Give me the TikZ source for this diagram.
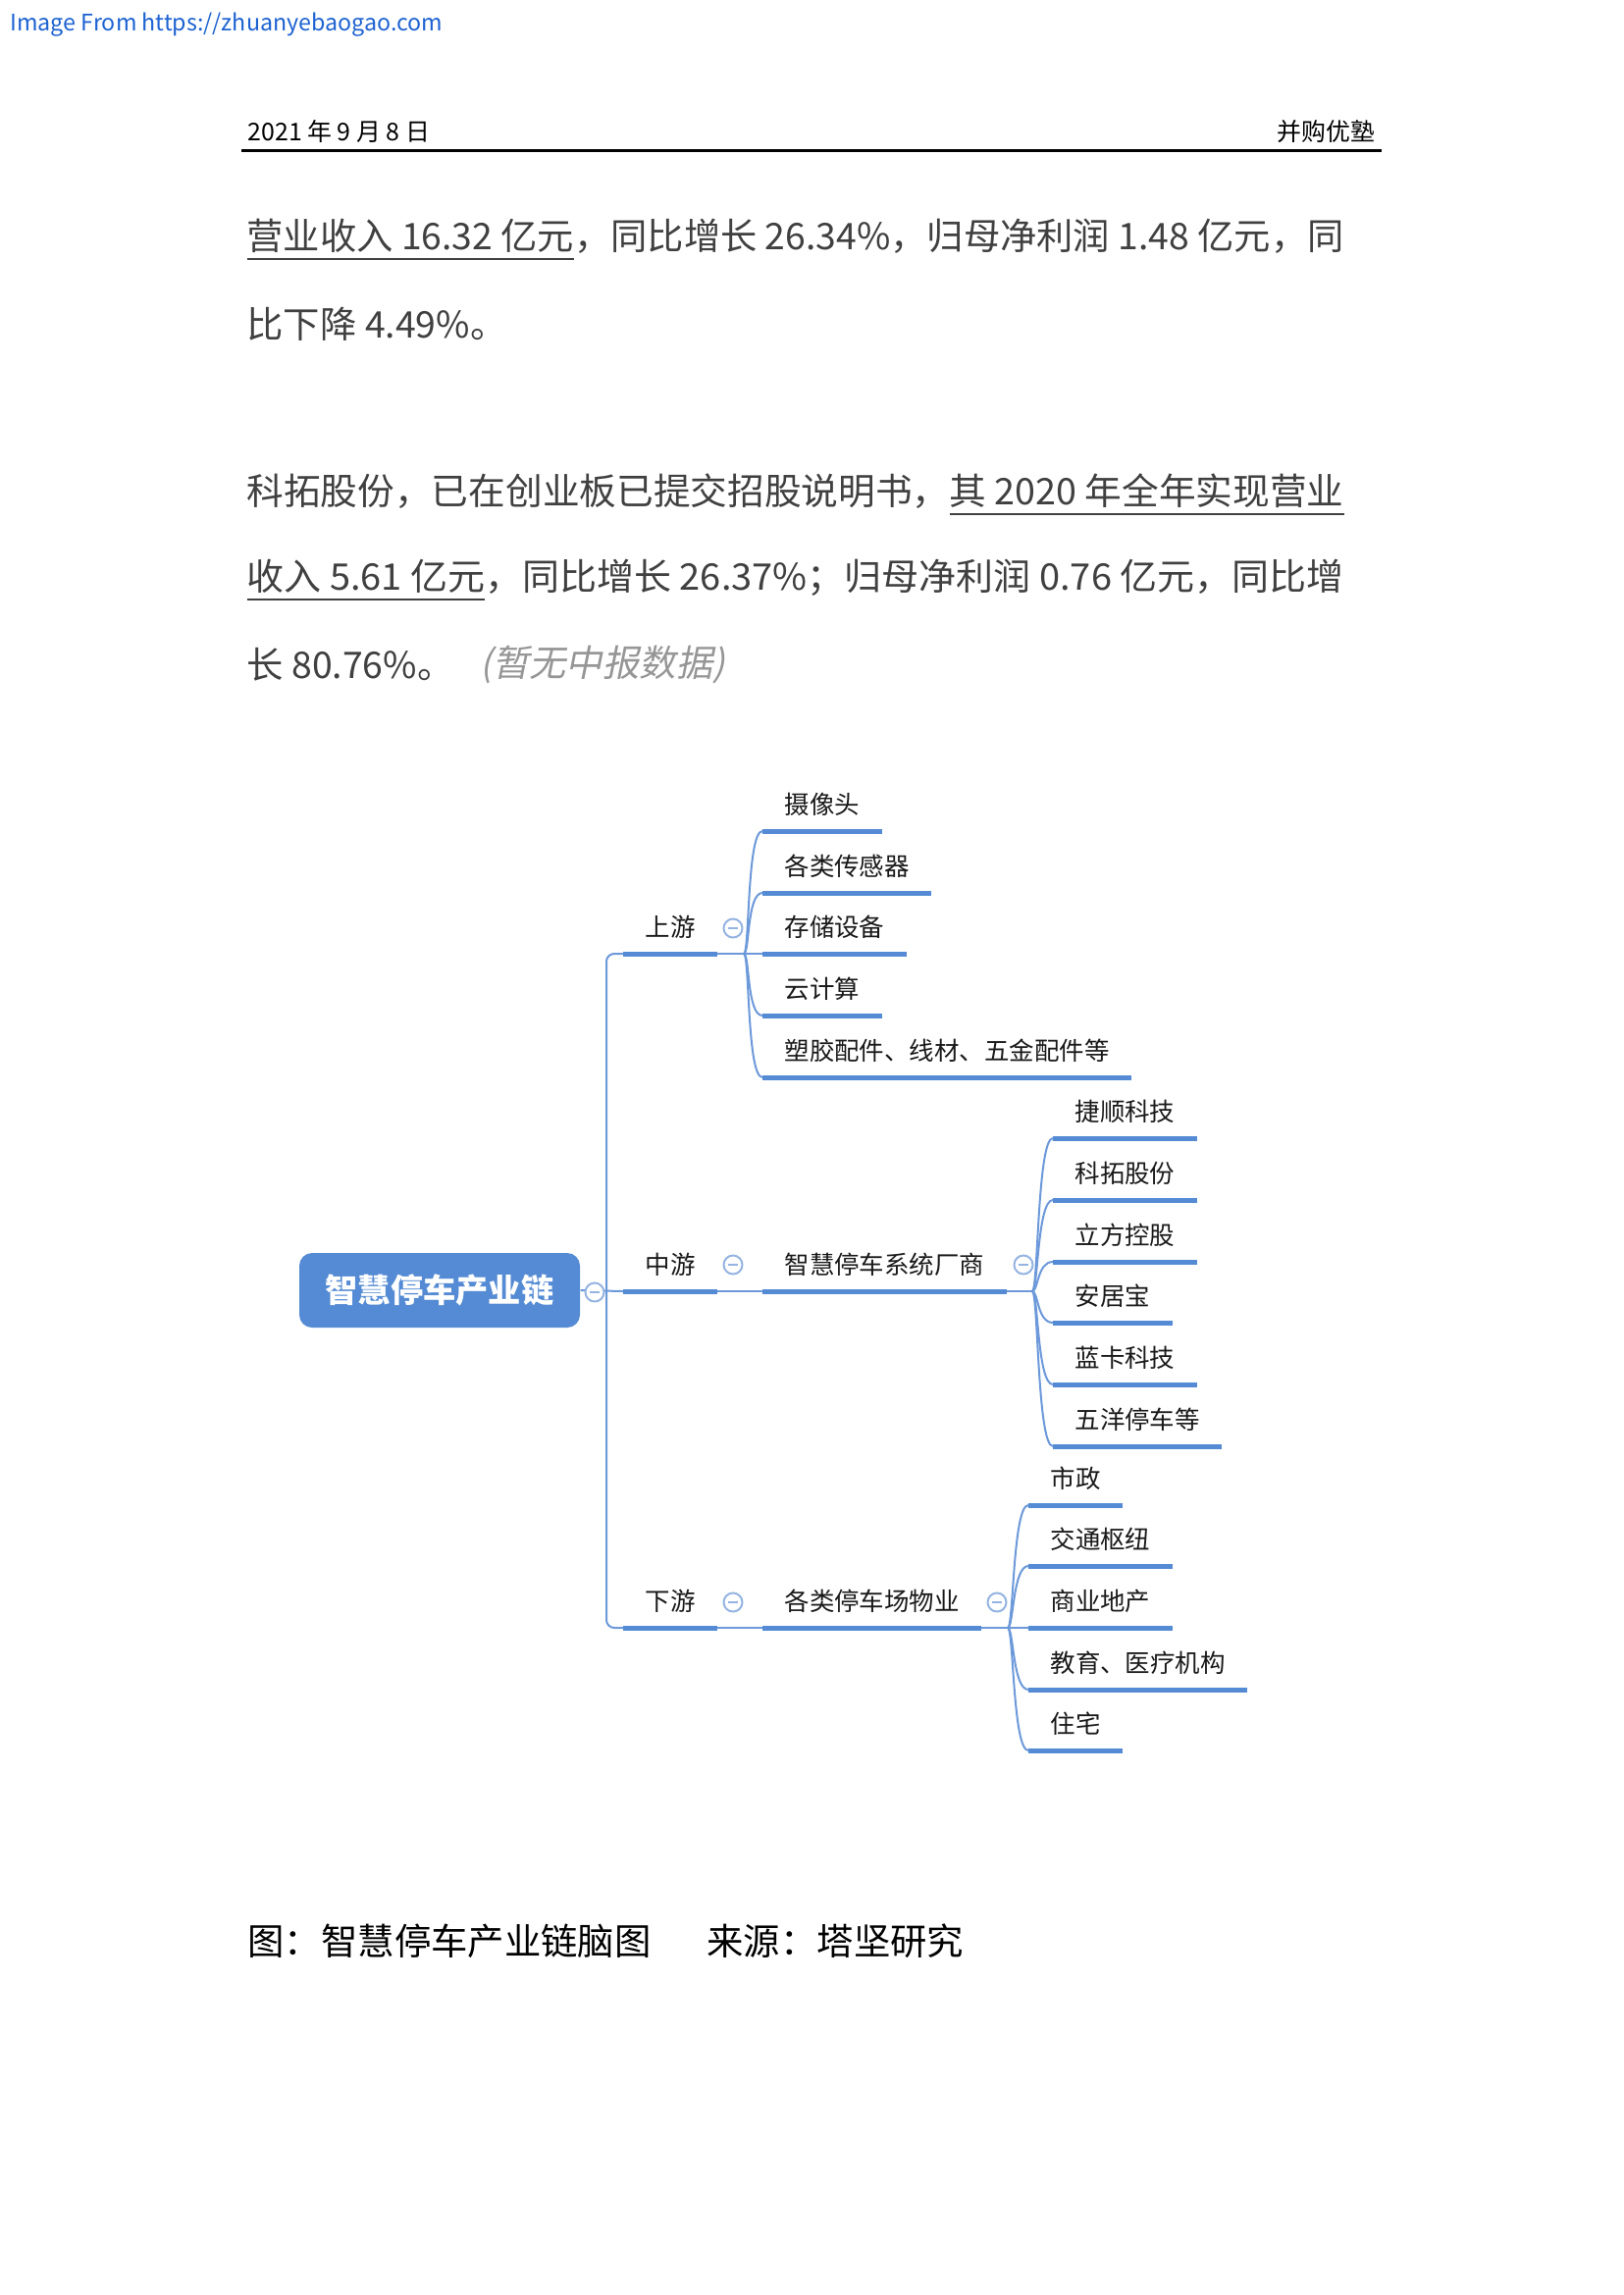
\documentclass[tikz,border=0pt]{standalone}
\usepackage{fontspec}
\setmainfont{Noto Sans CJK SC}
\newfontfamily\slantcjk[FakeSlant=0.2]{Noto Sans CJK SC}
\usepackage{graphicx}
\usepackage{xcolor}
\usepackage{tikz}
\newlength{\pxu}
\setlength{\pxu}{0.12697mm}
\definecolor{mapblue}{RGB}{84,139,212}
\definecolor{linkblue}{RGB}{108,153,218}
\definecolor{foldblue}{RGB}{150,180,226}
\definecolor{bodygrey}{RGB}{64,64,64}
\definecolor{notegrey}{RGB}{150,150,150}
\definecolor{urlblue}{RGB}{28,98,210}
\newcommand{\lineunder}[1]{\setbox0=\hbox{#1}\rlap{\rule[-3.8pt]{\wd0}{0.85pt}}\box0}
\tikzset{
    root-box/.style = {fill=mapblue, text=white, rounded corners=13\pxu, minimum width=286\pxu, minimum height=76\pxu, inner sep=0pt, font=\fontsize{12pt}{14pt}\bfseries},
    topic-bar/.style = {draw=mapblue, line width=5\pxu},
    topic/.style = {anchor=south west, inner xsep=22\pxu, inner ysep=0pt, minimum height=54\pxu, text=black!90, font=\fontsize{9.2pt}{11pt}\selectfont,
        append after command={(\tikzlastnode.south west) edge[topic-bar] (\tikzlastnode.south east)}},
    link/.style = {draw=linkblue, line width=2\pxu},
    fold-mark/.style = {circle, draw=foldblue, fill=white, line width=2\pxu, minimum size=19\pxu, inner sep=0pt,
        path picture={\draw[foldblue, line width=2\pxu] ([xshift=-5\pxu]path picture bounding box.center) -- ([xshift=5\pxu]path picture bounding box.center);}},
    body-line/.style = {anchor=west, inner sep=0pt, text=bodygrey, font=\fontsize{13.5pt}{16pt}\selectfont},
    note-text/.style = {anchor=west, inner sep=0pt, text=notegrey, font=\fontsize{13.5pt}{16pt}\slantcjk},
    head-text/.style = {inner sep=0pt, text=black, font=\fontsize{9pt}{11pt}\selectfont},
    caption-text/.style = {anchor=west, inner sep=0pt, text=black, font=\fontsize{13.5pt}{16pt}\selectfont},
}

\begin{document}
\begin{tikzpicture}[x=\pxu, y=-\pxu]
\useasboundingbox (0,0) rectangle (1654,2339);
\fill[white] (0,0) rectangle (1654,2339);

% page head
\node[anchor=west, inner sep=0pt, text=urlblue, font=\fontsize{8.4pt}{10pt}\selectfont] (source) at (10,25) {Image From https://zhuanyebaogao.com};
\node[head-text, anchor=west] (date) at (252,134) {2021 年 9 月 8 日};
\node[head-text, anchor=east] (brand) at (1402,134) {并购优塾};
\draw[line width=3\pxu] (246,154) -- (1408,154);

% text above the map
\node[body-line] (line-a) at (251,244) {\resizebox{1118\pxu}{\height}{\lineunder{营业收入 16.32 亿元}，同比增长 26.34\%，归母净利润 1.48 亿元，同}};
\node[body-line] (line-b) at (251,330) {比下降 4.49\%。};
\node[body-line] (line-c) at (251,504) {\resizebox{1118\pxu}{\height}{科拓股份，已在创业板已提交招股说明书，\lineunder{其 2020 年全年实现营业}}};
\node[body-line] (line-d) at (251,591) {\resizebox{1118\pxu}{\height}{\lineunder{收入 5.61 亿元}，同比增长 26.37\%；归母净利润 0.76 亿元，同比增}};
\node[body-line] (line-e) at (251,677) {长 80.76\%。};
\node[note-text] (note) at (489,677) {(暂无中报数据)};

% mind map
\node[root-box] (root) at (448,1315) {智慧停车产业链};

\node[topic] (up) at (635,972) {上游};
\node[topic] (mid) at (635,1316) {中游};
\node[topic] (down) at (635,1659) {下游};
\coordinate (trunk) at (618,1316);

\node[topic] (camera) at (777,847) {摄像头};
\node[topic] (sensor) at (777,910) {各类传感器};
\node[topic] (storage) at (777,972) {存储设备};
\node[topic] (cloud) at (777,1035) {云计算};
\node[topic] (parts) at (777,1098) {塑胶配件、线材、五金配件等};
\coordinate (up-hub) at (758,972);

\node[topic] (sys) at (777,1316) {智慧停车系统厂商};
\node[topic] (jieshun) at (1073,1160) {捷顺科技};
\node[topic] (ketuo) at (1073,1223) {科拓股份};
\node[topic] (lifang) at (1073,1286) {立方控股};
\node[topic] (anjubao) at (1073,1348) {安居宝};
\node[topic] (lanka) at (1073,1411) {蓝卡科技};
\node[topic] (wuyang) at (1073,1474) {五洋停车等};
\coordinate (sys-hub) at (1052,1316);

\node[topic] (park) at (777,1659) {各类停车场物业};
\node[topic] (civic) at (1048,1534) {市政};
\node[topic] (transit) at (1048,1596) {交通枢纽};
\node[topic] (estate) at (1048,1659) {商业地产};
\node[topic] (school) at (1048,1722) {教育、医疗机构};
\node[topic] (home) at (1048,1784) {住宅};
\coordinate (park-hub) at (1027,1659);

\draw[link] (root.east) -- (mid.south west);
\draw[link, rounded corners=8\pxu] (up.south west) -| (trunk) |- (down.south west);
\draw[link] (mid.south east) -- (sys.south west);
\draw[link] (down.south east) -- (park.south west);

\draw[link] (up.south east) -- (up-hub);
\draw[link] (up-hub) .. controls +(6,0) and +(-16,0) .. (camera.south west);
\draw[link] (up-hub) .. controls +(6,0) and +(-16,0) .. (sensor.south west);
\draw[link] (up-hub) -- (storage.south west);
\draw[link] (up-hub) .. controls +(6,0) and +(-16,0) .. (cloud.south west);
\draw[link] (up-hub) .. controls +(6,0) and +(-16,0) .. (parts.south west);

\draw[link] (sys.south east) -- (sys-hub);
\draw[link] (sys-hub) .. controls +(6,0) and +(-16,0) .. (jieshun.south west);
\draw[link] (sys-hub) .. controls +(6,0) and +(-16,0) .. (ketuo.south west);
\draw[link] (sys-hub) .. controls +(6,0) and +(-16,0) .. (lifang.south west);
\draw[link] (sys-hub) .. controls +(6,0) and +(-16,0) .. (anjubao.south west);
\draw[link] (sys-hub) .. controls +(6,0) and +(-16,0) .. (lanka.south west);
\draw[link] (sys-hub) .. controls +(6,0) and +(-16,0) .. (wuyang.south west);

\draw[link] (park.south east) -- (park-hub);
\draw[link] (park-hub) .. controls +(6,0) and +(-16,0) .. (civic.south west);
\draw[link] (park-hub) .. controls +(6,0) and +(-16,0) .. (transit.south west);
\draw[link] (park-hub) -- (estate.south west);
\draw[link] (park-hub) .. controls +(6,0) and +(-16,0) .. (school.south west);
\draw[link] (park-hub) .. controls +(6,0) and +(-16,0) .. (home.south west);

\node[fold-mark] (root-fold) at (606,1317) {};
\node[fold-mark] (up-fold) at (747,946) {};
\node[fold-mark] (mid-fold) at (747,1289) {};
\node[fold-mark] (down-fold) at (747,1633) {};
\node[fold-mark] (sys-fold) at (1043,1289) {};
\node[fold-mark] (park-fold) at (1016,1633) {};

% caption
\node[caption-text] (fig-title) at (252,1978) {图：智慧停车产业链脑图};
\node[caption-text] (fig-source) at (720,1978) {来源：塔坚研究};
\end{tikzpicture}
\end{document}
